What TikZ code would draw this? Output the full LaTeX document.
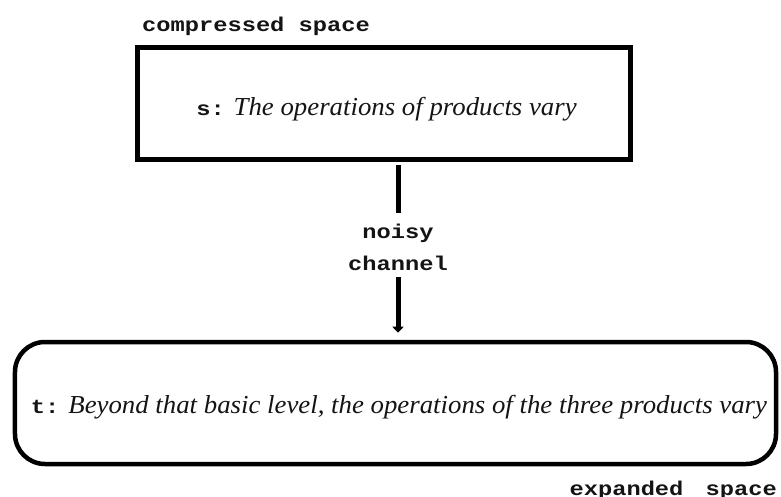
\documentclass[tikz,border=0pt]{standalone}
\usepackage{fontspec}
\setmainfont{Liberation Serif}
\newfontfamily\sentfont[FakeStretch=1.035]{Liberation Serif}
\newfontfamily\codefont[FakeStretch=1.19]{Liberation Mono}
\usetikzlibrary{
  arrows.meta,
  positioning,
  calc
}
\definecolor{linecolor}{RGB}{0, 0, 0}
\definecolor{textcolor}{RGB}{20, 20, 20}
\newcommand{\varname}[1]{{\codefont\bfseries\upshape\fontsize{20}{24}\selectfont #1}}
\tikzset{
codetext/.style={
  font=\codefont\bfseries\fontsize{20}{32}\selectfont,
  text=textcolor,
  align=center,
  inner sep=0pt
},
sentencetext/.style={
  font=\sentfont\itshape\fontsize{26}{30}\selectfont,
  text=textcolor,
  inner sep=0pt
},
compressedbox/.style={
  draw=linecolor,
  line width=5bp,
  minimum width=492bp,
  minimum height=112bp
},
expandedbox/.style={
  draw=linecolor,
  line width=4.5bp,
  rounded corners=30bp,
  minimum width=761bp,
  minimum height=122bp
},
channelline/.style={
  line width=5bp,
  draw=linecolor
},
channelarrow/.style={
  channelline,
  -{Triangle[length=6bp,width=11bp]}
}
}

\begin{document}
\begin{tikzpicture}[x=1bp,y=-1bp]
  \useasboundingbox (0,0) rectangle (781,497);
  \node[codetext, anchor=base west] (clabel) at (142,32) {compressed space};
  \node[compressedbox] (sbox) at (384,104) {};
  \node[sentencetext, anchor=base] (stext) at (386.5,116) {\varname{s:} The operations of products vary};
  \node[codetext] (chan) at (398,247) {noisy\\channel};
  \node[expandedbox] (tbox) at (395.5,403) {};
  \node[sentencetext, anchor=base] (ttext) at (399,413) {\varname{t:} Beyond that basic level, the operations of the three products vary};
  \node[codetext, anchor=base east] (elabel) at (777,495) {expanded\hspace{0.4em} space};
  \draw[channelline, shorten <=3bp, shorten >=11bp] (sbox.south -| chan) -- (chan.north);
  \draw[channelarrow, shorten <=7bp, shorten >=7bp] (chan.south) -- (tbox.north -| chan);
\end{tikzpicture}
\end{document}
